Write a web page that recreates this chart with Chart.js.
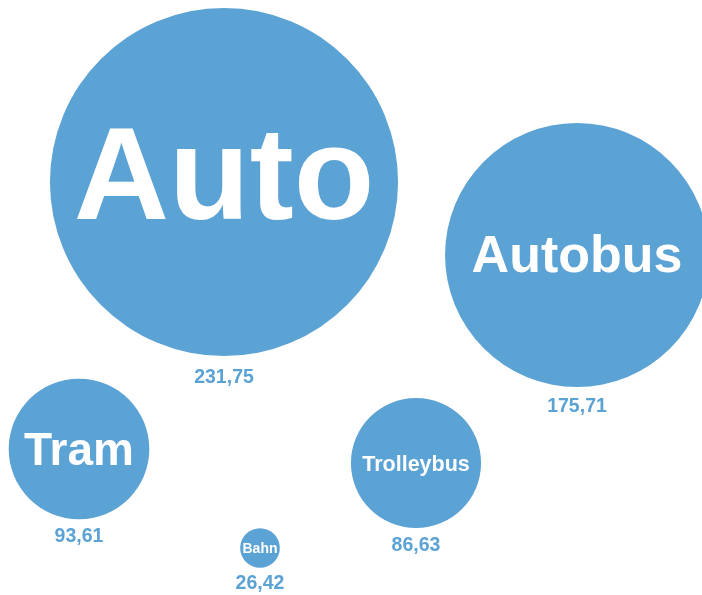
<!DOCTYPE html>
<html>
<head>
<meta charset="utf-8">
<script src="https://cdn.jsdelivr.net/npm/chart.js@4"></script>
<style>
  html, body { margin: 0; padding: 0; background: #fff; }
  #wrap { width: 702px; height: 595px; position: relative; }
</style>
</head>
<body>
<div id="wrap"><canvas id="chart"></canvas></div>
<script>
// ---- data ----
const categories = ['Auto', 'Autobus', 'Tram', 'Trolleybus', 'Bahn'];
const values     = [231.75, 175.71, 93.61, 86.63, 26.42];
// bubble centres on the (hidden) x / y axes
const bubbleX    = [224, 577, 79, 416, 260];
const bubbleY    = [182, 255, 449, 463, 548];

// ---- styles ----
const BLUE = '#5ba2d5';
const RADIUS_PER_UNIT = 0.751;
const nameFontSizes = [132, 52, 46, 21.5, 14];
const nameShiftY    = [-10, -2, 0, 0, 0];
const FONT = '"Liberation Sans", Arial, Helvetica, sans-serif';

const fmt = v => v.toFixed(2).replace('.', ',');

const bubbleLabels = {
  id: 'bubbleLabels',
  afterDatasetsDraw(chart) {
    const { ctx } = chart;
    const meta = chart.getDatasetMeta(0);
    ctx.save();
    ctx.textAlign = 'center';
    meta.data.forEach((el, i) => {
      const r = el.options.radius;
      // name inside the bubble
      const size = nameFontSizes[i];
      ctx.font = `bold ${size}px ${FONT}`;
      ctx.fillStyle = '#ffffff';
      ctx.textBaseline = 'alphabetic';
      ctx.fillText(categories[i], el.x, el.y + size * 0.358 + nameShiftY[i]);
      // value under the bubble
      ctx.font = `bold 19.5px ${FONT}`;
      ctx.fillStyle = BLUE;
      ctx.textBaseline = 'middle';
      ctx.fillText(fmt(values[i]), el.x, el.y + r + 15 + r * 0.035);
    });
    ctx.restore();
  }
};

new Chart(document.getElementById('chart'), {
  type: 'bubble',
  data: {
    datasets: [{
      data: categories.map((c, i) => ({ x: bubbleX[i], y: bubbleY[i], r: values[i] * RADIUS_PER_UNIT })),
      backgroundColor: BLUE,
      borderWidth: 0,
      hoverRadius: 0,
      clip: false,
    }]
  },
  options: {
    responsive: true,
    maintainAspectRatio: false,
    animation: false,
    // bubbles would otherwise push the chart area inwards by their radius
    layout: { padding: 0, autoPadding: false },
    plugins: {
      legend: { display: false },
      tooltip: { enabled: false },
    },
    scales: {
      x: { type: 'linear', min: 0, max: 702, display: false },
      y: { type: 'linear', min: 0, max: 595, reverse: true, display: false },
    }
  },
  plugins: [bubbleLabels]
});
</script>
</body>
</html>
